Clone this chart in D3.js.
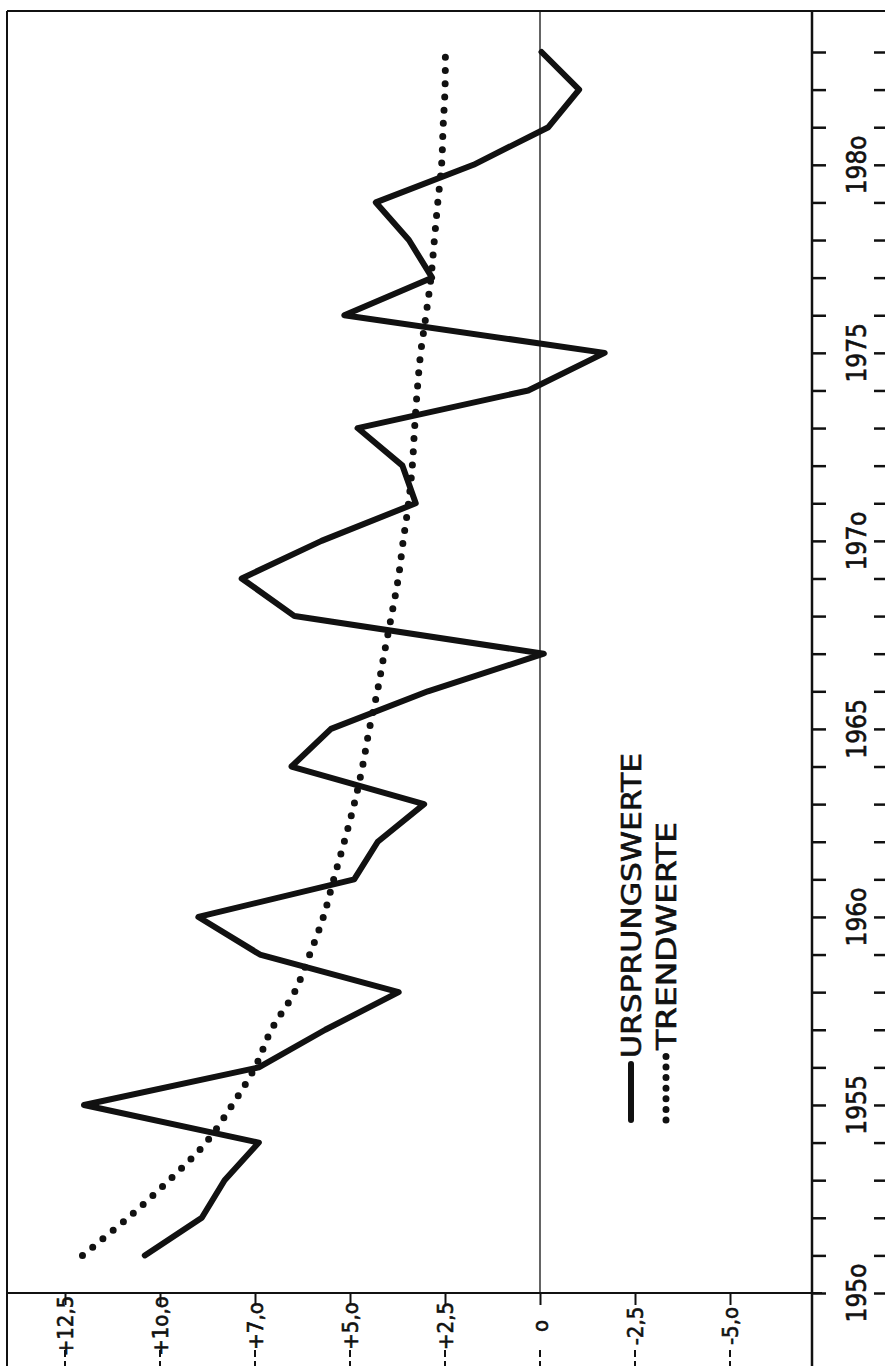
<!DOCTYPE html>
<html>
<head>
<meta charset="utf-8">
<script src="https://cdn.jsdelivr.net/npm/d3@7"></script>
<style>
  html, body { margin: 0; padding: 0; background: #fff; }
  svg { display: block; }
  text { font-family: "DejaVu Sans Condensed", "DejaVu Sans", sans-serif; fill: #111; stroke: #111; stroke-width: 0.6; }
</style>
</head>
<body>
<svg id="chart" width="885" height="1366"></svg>
<script>
// ---------- data ----------
const years = [1951,1952,1953,1954,1955,1956,1957,1958,1959,1960,1961,1962,1963,1964,1965,1966,1967,1968,1969,1970,1971,1972,1973,1974,1975,1976,1977,1978,1979,1980,1981,1982,1983];
const ursprungswerte = [10.4,8.9,8.3,7.4,12.0,7.4,5.65,3.72,7.37,8.99,4.89,4.27,3.05,6.54,5.5,2.95,-0.1,6.46,7.85,5.75,3.27,3.62,4.8,0.31,-1.7,5.15,2.84,3.45,4.32,1.75,-0.22,-1.03,-0.04];
const trendwerte = [12.04,10.84,9.76,8.79,8.10,7.50,7.07,6.46,6.06,5.70,5.43,5.15,4.89,4.67,4.49,4.28,4.10,3.91,3.73,3.60,3.46,3.36,3.30,3.23,3.14,3.00,2.87,2.78,2.69,2.59,2.55,2.50,2.49];
const yearTicks = [1950,1951,1952,1953,1954,1955,1956,1957,1958,1959,1960,1961,1962,1963,1964,1965,1966,1967,1968,1969,1970,1971,1972,1973,1974,1975,1976,1977,1978,1979,1980,1981,1982,1983];
const yearLabelValues = [1950,1955,1960,1965,1970,1975,1980];
const yearLabels = ["195o","1955","196o","1965","197o","1975","198o"];
const valueTicks = [12.5,10,7.5,5,2.5,0,-2.5,-5];
const valueLabels = ["+12,5","+1o,o","+7,o","+5,o","+2,5","o","-2,5","-5,o"];
const legendLabels = ["URSPRUNGSWERTE","TRENDWERTE"];

// ---------- scales ----------
const svg = d3.select("#chart");
const yScale = d3.scaleLinear().domain([1950, 1983]).range([1293, 52]);
const xScale = d3.scaleLinear().domain([0, 12.5]).range([540, 65]);

const axisX = 812, baseY = 1293, topY = 11, leftX = 7;

// frame
svg.append("line").attr("x1", leftX).attr("x2", leftX).attr("y1", topY).attr("y2", 1366)
  .attr("stroke", "#111").attr("stroke-width", 2);
svg.append("line").attr("x1", leftX).attr("x2", 885).attr("y1", topY).attr("y2", topY)
  .attr("stroke", "#111").attr("stroke-width", 2.2);
svg.append("line").attr("x1", leftX).attr("x2", 822).attr("y1", baseY).attr("y2", baseY)
  .attr("stroke", "#111").attr("stroke-width", 2.2);

// zero line
svg.append("line").attr("x1", xScale(0)).attr("x2", xScale(0)).attr("y1", topY).attr("y2", baseY)
  .attr("stroke", "#111").attr("stroke-width", 1.3);

// year axis (right)
const yAxis = d3.axisRight(yScale).tickValues(yearTicks).tickSize(14).tickFormat("");
const gy = svg.append("g").attr("transform", `translate(${axisX},0)`).call(yAxis);
gy.select(".domain").remove();
gy.selectAll(".tick line").attr("stroke", "#111").attr("stroke-width", 2.5);
svg.append("line").attr("x1", axisX).attr("x2", axisX).attr("y1", topY).attr("y2", 1366)
  .attr("stroke", "#111").attr("stroke-width", 2.5);
// second tick column at far right
const yAxis2 = d3.axisRight(yScale).tickValues(yearTicks).tickSize(12).tickFormat("");
const gy2 = svg.append("g").attr("transform", `translate(874,0)`).call(yAxis2);
gy2.select(".domain").remove();
gy2.selectAll(".tick line").attr("stroke", "#111").attr("stroke-width", 2.5);

// year labels
svg.append("g").selectAll("text").data(yearLabelValues).join("text")
  .attr("transform", (d) => `translate(866,${yScale(d)}) rotate(-90)`)
  .attr("text-anchor", "middle")
  .attr("font-size", 26)
  .text((d, i) => yearLabels[i]);

// value axis (bottom)
const xAxis = d3.axisBottom(xScale).tickValues(valueTicks).tickSize(12).tickFormat("");
const gx = svg.append("g").attr("transform", `translate(0,${baseY})`).call(xAxis);
gx.select(".domain").remove();
gx.selectAll(".tick line").attr("stroke", "#111").attr("stroke-width", 2);
// dashed continuation below labels
svg.append("g").selectAll("line").data(valueTicks).join("line")
  .attr("x1", (d) => xScale(d)).attr("x2", (d) => xScale(d))
  .attr("y1", 1350).attr("y2", 1366)
  .attr("stroke", "#111").attr("stroke-width", 2).attr("stroke-dasharray", "7,4");
// value labels
svg.append("g").selectAll("text").data(valueTicks).join("text")
  .attr("transform", (d) => `translate(${xScale(d) + 8},1326) rotate(-90)`)
  .attr("text-anchor", "middle")
  .attr("font-size", 22)
  .text((d, i) => valueLabels[i]);

// series
const rows = years.map((y, i) => ({ year: y, v: ursprungswerte[i], t: trendwerte[i] }));
const lineU = d3.line().x((d) => xScale(d.v)).y((d) => yScale(d.year));
const lineT = d3.line().curve(d3.curveCatmullRom).x((d) => xScale(d.t)).y((d) => yScale(d.year));

svg.append("path").datum(rows).attr("d", lineT)
  .attr("fill", "none").attr("stroke", "#111").attr("stroke-width", 7)
  .attr("stroke-linecap", "round").attr("stroke-dasharray", "0,13.2");
svg.append("path").datum(rows).attr("d", lineU)
  .attr("fill", "none").attr("stroke", "#111").attr("stroke-width", 6)
  .attr("stroke-linejoin", "round").attr("stroke-linecap", "round");

// legend
svg.append("line").attr("x1", 631).attr("x2", 631).attr("y1", 1120).attr("y2", 1064)
  .attr("stroke", "#111").attr("stroke-width", 6).attr("stroke-linecap", "round");
svg.append("line").attr("x1", 666).attr("x2", 666).attr("y1", 1120).attr("y2", 1056)
  .attr("stroke", "#111").attr("stroke-width", 7).attr("stroke-linecap", "round")
  .attr("stroke-dasharray", "0,10.6");
svg.append("text").attr("transform", "translate(641,1058) rotate(-90)")
  .attr("font-size", 26).attr("textLength", 305).attr("lengthAdjust", "spacingAndGlyphs")
  .text(legendLabels[0]);
svg.append("text").attr("transform", "translate(676,1050) rotate(-90)")
  .attr("font-size", 26).attr("textLength", 228).attr("lengthAdjust", "spacingAndGlyphs")
  .text(legendLabels[1]);
</script>
</body>
</html>
